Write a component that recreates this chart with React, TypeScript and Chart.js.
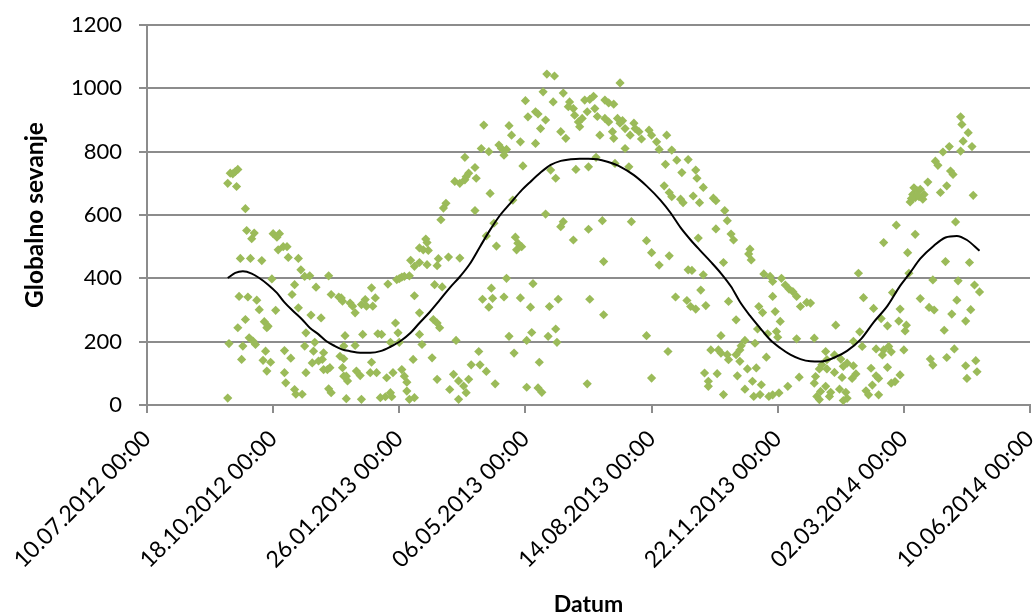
import { useEffect, useRef } from "react";
import { Chart, registerables } from "chart.js";

Chart.register(...registerables);

// x values are day offsets counted from 10.07.2012 00:00
const tickLabels = [
  "10.07.2012 00:00",
  "18.10.2012 00:00",
  "26.01.2013 00:00",
  "06.05.2013 00:00",
  "14.08.2013 00:00",
  "22.11.2013 00:00",
  "02.03.2014 00:00",
  "10.06.2014 00:00",
];
const dayStep = 100;

// Autumn 2012: [day offset, global radiation]
const autumn2012: [number, number][] = [
  [64, 700], [66, 732], [68, 730], [70, 737], [72, 744], [71, 690],
  [78, 620], [79, 551], [83, 525], [85, 543],
  [74, 463], [82, 463], [91, 456],
  [100, 541], [103, 530], [105, 541], [104, 490], [108, 500], [111, 500], [112, 466], [120, 463],
  [99, 398], [122, 427], [125, 406], [129, 408], [134, 372], [144, 408], [146, 349], [152, 341], [155, 328],
  [117, 380], [115, 349],
  [73, 343], [80, 341], [87, 331], [89, 301], [102, 299], [120, 307], [130, 284], [138, 275],
  [72, 244], [78, 270], [93, 263], [95, 244], [96, 249],
  [65, 194], [76, 186], [81, 212], [84, 202], [86, 191], [94, 170], [109, 172], [114, 148], [92, 141], [98, 135], [75, 144], [95, 107],
  [126, 228], [133, 198], [125, 186], [132, 170], [140, 165], [139, 144], [131, 133], [136, 139], [140, 112], [143, 112], [145, 118],
  [126, 102], [109, 102], [110, 70], [117, 49], [118, 34], [123, 34], [144, 51], [146, 39], [64, 22],
  [156, 186], [156, 146], [156, 91],
];

// Winter and spring 2013
const winterSpring2013: [number, number][] = [
  [244, 706], [248, 700], [252, 711], [255, 732], [253, 721], [237, 637], [235, 622], [233, 585],
  [221, 524], [222, 513], [216, 496], [219, 490], [223, 488],
  [209, 457], [212, 438], [216, 450], [222, 443], [231, 462], [230, 440], [239, 467], [248, 464],
  [191, 382], [198, 396], [202, 404], [208, 408], [200, 399], [204, 406],
  [228, 380], [234, 373],
  [212, 345], [216, 291], [197, 259], [199, 228], [227, 270], [230, 259], [232, 244],
  [154, 338], [161, 322], [163, 312], [165, 291], [170, 317], [173, 333], [174, 312], [178, 370], [179, 312], [181, 338],
  [157, 219], [171, 223], [183, 225], [186, 223], [193, 198], [200, 198], [218, 191], [216, 223], [245, 204],
  [165, 188], [153, 154], [155, 118], [158, 91], [159, 76], [166, 107], [169, 93], [178, 135], [177, 102], [182, 102],
  [190, 86], [195, 102], [202, 112], [204, 91], [206, 72], [211, 144], [206, 44], [212, 23], [208, 18], [226, 149],
  [230, 81], [240, 49], [243, 97], [247, 76], [251, 60], [255, 81], [247, 18], [253, 39],
  [158, 20], [170, 18], [185, 23], [189, 26], [194, 26], [193, 39],
];

// Summer 2013
const summer2013: [number, number][] = [
  [317, 1045], [323, 1039], [314, 989], [330, 985], [300, 961], [322, 957], [335, 957], [334, 942], [338, 936],
  [347, 963], [349, 926], [339, 915], [342, 894], [343, 879], [302, 910], [308, 926], [310, 919], [316, 900],
  [312, 873], [328, 863], [332, 842], [267, 884], [287, 882], [289, 852], [296, 831], [308, 826], [265, 810],
  [271, 800], [279, 821], [281, 810], [285, 807], [283, 789],
  [252, 782], [260, 750], [261, 716], [298, 755], [320, 742], [324, 716], [340, 744], [350, 752],
  [272, 668], [290, 647], [260, 614], [316, 603], [328, 563], [330, 579], [350, 555], [275, 574], [269, 534],
  [277, 502], [292, 530], [294, 511], [293, 490], [297, 500], [338, 521],
  [285, 400], [306, 383], [273, 369], [266, 334], [274, 337], [271, 309], [283, 341], [296, 338], [304, 309],
  [319, 311], [326, 334], [351, 334],
  [287, 217], [291, 164], [301, 204], [305, 229], [318, 217], [324, 240], [325, 198], [311, 135], [263, 169],
  [257, 127], [264, 127], [269, 106], [276, 67], [301, 56], [310, 54], [313, 40], [349, 67],
  [375, 1017], [354, 975], [351, 965], [363, 963], [366, 954], [370, 950], [355, 936], [345, 905], [357, 911],
  [363, 905], [366, 894], [373, 905], [377, 898], [375, 890], [379, 873], [386, 890], [383, 852], [387, 873],
  [390, 863], [392, 840], [398, 868], [400, 852], [404, 831], [412, 852], [406, 807], [359, 852], [369, 863],
  [370, 842], [379, 810], [382, 752], [371, 763], [356, 782], [416, 805], [420, 773], [424, 734], [429, 775],
  [435, 742], [436, 716], [441, 687], [411, 760], [410, 692], [414, 671], [416, 658], [423, 650], [425, 639],
  [433, 660], [438, 639],
  [361, 582], [384, 579], [362, 453], [396, 519], [400, 481], [406, 442], [414, 471], [437, 527], [429, 427],
  [432, 425], [441, 411],
  [362, 285], [396, 219], [419, 341], [428, 330], [431, 311], [435, 303], [439, 363], [443, 314], [413, 169],
  [400, 85], [442, 101], [445, 75],
];

// Autumn and winter 2013/14
const autumnWinter2013: [number, number][] = [
  [449, 653], [451, 645], [458, 614], [460, 582], [451, 556], [463, 540], [465, 521], [478, 492], [477, 477],
  [479, 458], [457, 450], [489, 414], [494, 406], [496, 390], [503, 400], [506, 379], [509, 366], [512, 358],
  [515, 343], [518, 311], [523, 324], [526, 322], [496, 343], [461, 327], [485, 311], [488, 292], [498, 295],
  [467, 269], [502, 264], [499, 232], [484, 240], [455, 219], [492, 225], [500, 214], [515, 209], [529, 211],
  [474, 204], [471, 187], [482, 195], [447, 174], [453, 174], [455, 164], [461, 143], [460, 159], [470, 174],
  [467, 159], [470, 138], [491, 151], [538, 169], [452, 99], [445, 59], [468, 92], [476, 114], [483, 117],
  [480, 75], [487, 64], [474, 50], [481, 27], [486, 33], [493, 27], [496, 32], [501, 38], [508, 59], [457, 33],
  [517, 88], [530, 90], [529, 69], [533, 114], [535, 127], [539, 143], [531, 27], [533, 17], [534, 43], [541, 27],
];

// Spring 2014
const spring2014: [number, number][] = [
  [645, 910], [646, 886], [651, 860], [647, 833], [654, 816], [645, 802], [636, 816], [631, 799], [625, 770],
  [627, 757], [637, 739], [639, 728], [619, 704], [634, 692], [629, 671], [655, 662], [608, 686], [611, 676],
  [613, 681], [616, 665], [607, 665], [609, 655], [612, 658], [605, 641], [615, 650], [606, 652],
  [641, 578], [594, 568], [609, 539], [584, 513], [603, 481], [633, 453], [652, 450], [604, 416], [564, 416],
  [623, 395], [643, 392], [656, 379], [660, 357], [591, 355], [613, 336], [568, 339], [642, 331], [620, 308],
  [624, 300], [576, 305], [597, 303], [653, 301], [638, 287], [649, 265], [582, 273], [596, 265], [587, 250],
  [602, 252], [601, 234], [546, 252], [632, 236], [565, 231], [560, 201], [567, 185], [578, 177], [584, 174],
  [588, 185], [590, 168], [600, 174], [583, 158], [621, 145], [623, 126], [634, 150], [640, 177], [657, 140],
  [649, 124], [658, 105], [650, 84],
  [545, 158], [550, 145], [555, 132], [552, 122], [560, 124], [562, 98], [559, 84], [539, 114], [545, 103],
  [551, 87], [538, 59], [542, 40], [549, 50], [554, 40], [555, 21], [552, 14], [574, 116], [578, 92], [580, 84],
  [575, 63], [570, 45], [572, 32], [580, 32], [587, 119], [590, 69], [593, 74], [597, 95],
];

// Smooth trend line through the daily values
const trendDays = [
  64, 70, 76, 83, 89, 96, 103, 109, 116, 123, 129, 136, 142, 149, 155, 161, 169, 177, 185, 193, 201, 209, 216,
  224, 232, 240, 248, 256, 264, 272, 280, 288, 296, 304, 312, 320, 328, 336, 343, 350, 357, 365, 375, 386, 396,
  407, 415, 423, 431, 439, 447, 455, 463, 470, 478, 486, 494, 502, 510, 518, 526, 534, 545, 555, 566, 576, 587,
  597, 605, 613, 624, 633, 642, 650, 660,
];
const trendValues = [
  401, 417, 422, 415, 401, 380, 354, 324, 296, 270, 244, 223, 202, 186, 175, 170, 165, 165, 170, 184, 202, 228, 259,
  293, 331, 370, 405, 446, 500, 553, 600, 637, 674, 705, 734, 758, 771, 776, 778, 778, 776, 768, 753, 726, 692,
  647, 607, 560, 521, 486, 452, 416, 374, 326, 282, 243, 206, 180, 159, 145, 138, 137, 150, 171, 208, 261, 313,
  376, 418, 462, 504, 529, 534, 521, 487,
];

const FONT = "Lato, 'Open Sans', sans-serif";
const AXIS_GREY = "#8c8c8c";

export default function App() {
  const canvasRef = useRef<HTMLCanvasElement>(null);

  useEffect(() => {
    const canvas = canvasRef.current;
    if (!canvas) return;
    const points = [...autumn2012, ...winterSpring2013, ...summer2013, ...autumnWinter2013, ...spring2014].map(
      ([x, y]) => ({ x, y })
    );
    const trend = trendDays.map((x, i) => ({ x, y: trendValues[i] }));

    const chart = new Chart(canvas, {
      type: "scatter",
      data: {
        datasets: [
          {
            label: "Globalno sevanje",
            data: points,
            pointStyle: "rectRot",
            pointRadius: 4.6,
            pointHoverRadius: 4.6,
            backgroundColor: "#9BBB59",
            borderColor: "#9BBB59",
            borderWidth: 0,
            order: 1,
          },
          {
            label: "Trend",
            data: trend,
            showLine: true,
            pointRadius: 0,
            borderColor: "#000000",
            borderWidth: 2,
            cubicInterpolationMode: "monotone",
            fill: false,
            order: 0,
          } as any,
        ],
      },
      options: {
        responsive: false,
        animation: false,
        events: [],
        layout: { padding: { left: 0, top: 25, right: 6, bottom: 0 } },
        plugins: { legend: { display: false }, tooltip: { enabled: false } },
        scales: {
          x: {
            type: "linear",
            min: 0,
            max: dayStep * (tickLabels.length - 1),
            ticks: {
              stepSize: dayStep,
              autoSkip: false,
              minRotation: 45,
              maxRotation: 45,
              padding: 12,
              color: "#000000",
              font: { family: FONT, size: 23 },
              callback: (v: any) => tickLabels[Math.round(Number(v) / dayStep)] ?? "",
            },
            grid: { drawOnChartArea: false, drawTicks: true, tickLength: 8, color: AXIS_GREY, lineWidth: 2 },
            border: { color: AXIS_GREY, width: 2 },
            title: {
              display: true,
              text: "Datum",
              color: "#000000",
              font: { family: FONT, size: 23, weight: "bold" },
              padding: { top: 0, bottom: -3 },
            },
            afterFit: (s: any) => {
              s.height = 210;
              s.paddingLeft = 0;
              s.paddingRight = 0;
            },
          },
          y: {
            min: 0,
            max: 1200,
            ticks: {
              stepSize: 200,
              padding: 17,
              color: "#000000",
              font: { family: FONT, size: 22 },
              callback: (v: any) => String(v),
            },
            grid: { tickLength: 8, color: AXIS_GREY, lineWidth: 2 },
            border: { color: AXIS_GREY, width: 2 },
            title: {
              display: true,
              text: "Globalno sevanje",
              color: "#000000",
              font: { family: FONT, size: 24.5, weight: "bold" },
              padding: { top: 20, bottom: 0 },
            },
            afterFit: (s: any) => {
              s.width = 147;
              s.paddingTop = 0;
              s.paddingBottom = 0;
            },
          },
        },
      },
    });

    return () => chart.destroy();
  }, []);

  return (
    <canvas
      ref={canvasRef}
      width={1036}
      height={615}
      style={{ position: "absolute", left: 0, top: 0, width: 1036, height: 615 }}
    />
  );
}
